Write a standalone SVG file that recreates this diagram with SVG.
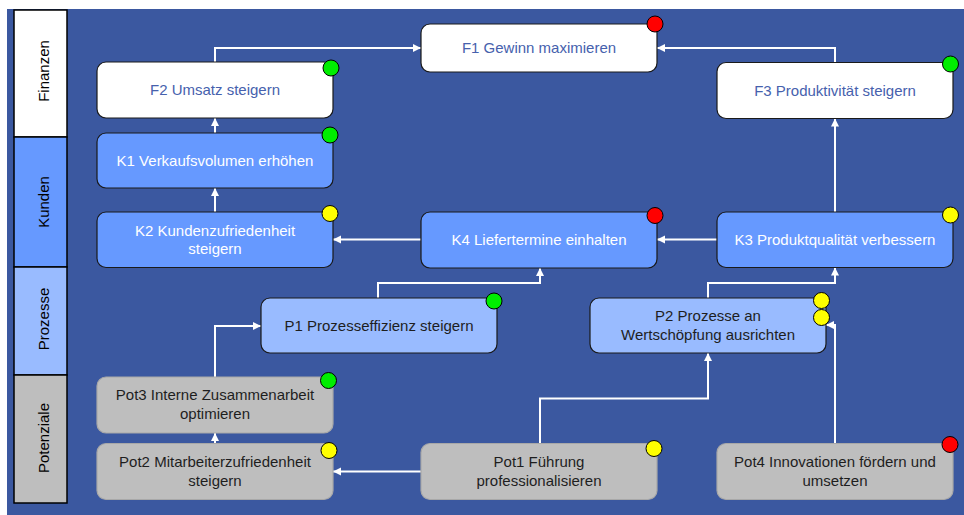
<svg xmlns="http://www.w3.org/2000/svg" width="964" height="515" viewBox="0 0 964 515">
<defs>
<marker id="ah" markerUnits="userSpaceOnUse" markerWidth="9" markerHeight="9" refX="8" refY="4.5" orient="auto"><path d="M0,0.5 L8,4.5 L0,8.5 z" fill="#ffffff"/></marker>
</defs>
<style>
text{font-family:"Liberation Sans",Arial,sans-serif;font-size:15px;text-anchor:middle}
.lane{stroke:#000;stroke-width:1.5}
.f{fill:#fff;stroke:#1a1a1a;stroke-width:1.2}
.k{fill:#6699ff;stroke:#1a1a1a;stroke-width:1.2}
.p{fill:#99bbff;stroke:#1a1a1a;stroke-width:1.2}
.g{fill:#bebebe;stroke:#a8a8a8;stroke-width:1.2}
.tf{fill:#4661ad}
.tk{fill:#ffffff}
.td{fill:#1e1e1e}
.c{stroke:#000;stroke-width:1}
.red{fill:#ff0000}.grn{fill:#00ee00}.yel{fill:#ffff00}
#connectors path{fill:none;stroke:#fff;stroke-width:2;marker-end:url(#ah)}
</style>
<rect x="7" y="9" width="957" height="506" fill="#3b58a0"/>
<g id="lanes">
<rect class="lane" x="14" y="10" width="53" height="127" fill="#ffffff"/>
<rect class="lane" x="14" y="137" width="53" height="130" fill="#6699ff"/>
<rect class="lane" x="14" y="267" width="53" height="108" fill="#99bbff"/>
<rect class="lane" x="14" y="375" width="53" height="128" fill="#bebebe"/>
<text transform="translate(49,71) rotate(-90)" fill="#000">Finanzen</text>
<text transform="translate(49,202) rotate(-90)" fill="#000">Kunden</text>
<text transform="translate(49,319) rotate(-90)" fill="#000">Prozesse</text>
<text transform="translate(49,438) rotate(-90)" fill="#000">Potenziale</text>
</g>
<g id="connectors">
<path d="M215,62 V48 H421"/>
<path d="M835,62.5 V48 H657"/>
<path d="M215,133 V118"/>
<path d="M215,212 V188"/>
<path d="M421,239.5 H333"/>
<path d="M717,239.5 H657"/>
<path d="M835,212 V118.5"/>
<path d="M378,298 V283 H540 V268"/>
<path d="M708,298 V283 H835 V267.5"/>
<path d="M215,377 V326 H261"/>
<path d="M215,443.5 V433"/>
<path d="M421,471.5 H333"/>
<path d="M540,443.5 V398.5 H708 V353"/>
<path d="M835,443.5 V325 H826"/>
</g>
<g id="F1"><rect class="f" x="421" y="24" width="236" height="48" rx="9"/><text class="tf" x="539" y="53">F1 Gewinn maximieren</text><circle class="c red" cx="655" cy="24" r="8"/></g>
<g id="F2"><rect class="f" x="97" y="62" width="236" height="56" rx="9"/><text class="tf" x="215" y="95">F2 Umsatz steigern</text><circle class="c grn" cx="331" cy="68" r="8"/></g>
<g id="F3"><rect class="f" x="717" y="62.5" width="236" height="56" rx="9"/><text class="tf" x="835" y="95.5">F3 Produktivität steigern</text><circle class="c grn" cx="950.5" cy="64" r="8"/></g>
<g id="K1"><rect class="k" x="97" y="133" width="236" height="55" rx="9"/><text class="tk" x="215" y="165.5">K1 Verkaufsvolumen erhöhen</text><circle class="c grn" cx="330" cy="135" r="8"/></g>
<g id="K2"><rect class="k" x="97" y="212" width="236" height="55.5" rx="9"/><text class="tk" x="215" y="235.5">K2 Kundenzufriedenheit</text><text class="tk" x="215" y="254">steigern</text><circle class="c yel" cx="330" cy="213.5" r="8"/></g>
<g id="K4"><rect class="k" x="421" y="212" width="236" height="56" rx="9"/><text class="tk" x="539" y="245">K4 Liefertermine einhalten</text><circle class="c red" cx="655" cy="215.5" r="8"/></g>
<g id="K3"><rect class="k" x="717" y="212" width="236" height="55.5" rx="9"/><text class="tk" x="835" y="245">K3 Produktqualität verbessern</text><circle class="c yel" cx="950.5" cy="215" r="8"/></g>
<g id="P1"><rect class="p" x="261" y="298" width="236" height="55" rx="9"/><text class="td" x="379" y="331">P1 Prozesseffizienz steigern</text><circle class="c grn" cx="494" cy="301" r="8"/></g>
<g id="P2"><rect class="p" x="590" y="298" width="236" height="55" rx="9"/><text class="td" x="708" y="321">P2 Prozesse an</text><text class="td" x="708" y="340">Wertschöpfung ausrichten</text><circle class="c yel" cx="821.5" cy="300.5" r="8"/><circle class="c yel" cx="821.5" cy="317.5" r="8"/></g>
<g id="Pot3"><rect class="g" x="97" y="377" width="236" height="56" rx="9"/><text class="td" x="215" y="400">Pot3 Interne Zusammenarbeit</text><text class="td" x="215" y="419">optimieren</text><circle class="c grn" cx="328.5" cy="380.5" r="8"/></g>
<g id="Pot2"><rect class="g" x="97" y="443.5" width="236" height="56" rx="9"/><text class="td" x="215" y="466.5">Pot2 Mitarbeiterzufriedenheit</text><text class="td" x="215" y="485.5">steigern</text><circle class="c yel" cx="329" cy="450.5" r="8"/></g>
<g id="Pot1"><rect class="g" x="421" y="443.5" width="236" height="56" rx="9"/><text class="td" x="539" y="466.5">Pot1 Führung</text><text class="td" x="539" y="485.5">professionalisieren</text><circle class="c yel" cx="654" cy="448.5" r="8"/></g>
<g id="Pot4"><rect class="g" x="717" y="443.5" width="236" height="56" rx="9"/><text class="td" x="835" y="466.5">Pot4 Innovationen fördern und</text><text class="td" x="835" y="485.5">umsetzen</text><circle class="c red" cx="950" cy="444.5" r="8"/></g>
</svg>
